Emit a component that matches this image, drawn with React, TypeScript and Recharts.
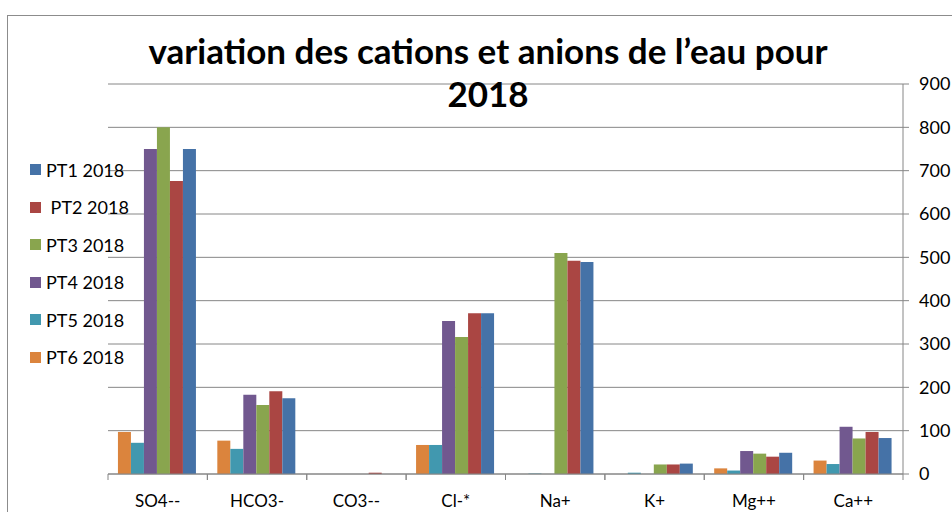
import React from 'react';
import { BarChart, Bar, XAxis, YAxis, CartesianGrid } from 'recharts';

const categories = ['SO4--', 'HCO3-', 'CO3--', 'Cl-*', 'Na+', 'K+', 'Mg++', 'Ca++'];

const pt1 = [750, 175, 0, 371, 489, 24, 49, 83];
const pt2 = [676, 191, 3, 371, 492, 22, 40, 97];
const pt3 = [800, 159, 0, 316, 510, 22, 47, 82];
const pt4 = [750, 183, 0, 353, 0, 0, 53, 109];
const pt5 = [72, 58, 0, 67, 1, 3, 8, 23];
const pt6 = [97, 77, 0, 67, 0, 0, 13, 31];

const yTicks = [0, 100, 200, 300, 400, 500, 600, 700, 800, 900];

const series = [
  { key: 'pt1', label: 'PT1 2018', color: '#4572a7' },
  { key: 'pt2', label: ' PT2 2018', color: '#aa4643' },
  { key: 'pt3', label: 'PT3 2018', color: '#89a54e' },
  { key: 'pt4', label: 'PT4 2018', color: '#71588f' },
  { key: 'pt5', label: 'PT5 2018', color: '#4198af' },
  { key: 'pt6', label: 'PT6 2018', color: '#db843d' },
];

const data = categories.map((name, i) => ({
  name,
  pt1: pt1[i],
  pt2: pt2[i],
  pt3: pt3[i],
  pt4: pt4[i],
  pt5: pt5[i],
  pt6: pt6[i],
}));

const W = 952;
const H = 512;
const M = { top: 84, left: 108, right: 0, bottom: 0 };
const Y_W = 49;
const X_H = 38;
const band = (W - M.left - M.right - Y_W) / categories.length;

const font = 'Lato, "Open Sans", sans-serif';

const CategoryTick = ({ x, y, payload }: any) => (
  <g>
    <line x1={x - band / 2} x2={x - band / 2} y1={y - 8} y2={y - 2} stroke="#868686" />
    <line x1={x + band / 2} x2={x + band / 2} y1={y - 8} y2={y - 2} stroke="#868686" />
    <text x={x} y={y + 25} textAnchor="middle" fontSize={17} fill="#000" fontFamily={font}>
      {payload.value}
    </text>
  </g>
);

const App = () => {
  return (
    <div style={{ position: 'absolute', left: 0, top: 0, width: W, height: H, background: '#fff', overflow: 'hidden' }}>
      <div style={{ position: 'absolute', left: 7, top: 15, width: 960, height: 520, border: '1px solid #8c8c8c' }} />
      <BarChart
        width={W}
        height={H}
        data={data}
        margin={M}
        barGap={0}
        barCategoryGap="10%"
      >
        <CartesianGrid vertical={false} stroke="#868686" />
        <XAxis
          dataKey="name"
          height={X_H}
          stroke="#868686"
          tickLine={false}
          tick={<CategoryTick />}
          interval={0}
        />
        <YAxis
          orientation="right"
          width={Y_W}
          domain={[0, 900]}
          ticks={yTicks}
          stroke="#868686"
          tickSize={6}
          tick={{ fontSize: 18, fill: '#000', fontFamily: font, textAnchor: 'start', dx: 8 }}
        />
        {[...series].reverse().map((s) => (
          <Bar key={s.key} dataKey={s.key} fill={s.color} isAnimationActive={false} />
        ))}
      </BarChart>
      <div
        style={{
          position: 'absolute',
          left: 0,
          width: 976,
          top: 29,
          textAlign: 'center',
          fontFamily: font,
          fontWeight: 'bold',
          fontSize: 35,
          lineHeight: '43px',
          color: '#000',
        }}
      >
        variation des cations et anions de l’eau pour
        <br />
        2018
      </div>
      <div style={{ position: 'absolute', left: 30, top: 151, fontFamily: font, fontSize: 18, color: '#000' }}>
        {series.map((s) => (
          <div key={s.key} style={{ display: 'flex', alignItems: 'center', height: 37.5 }}>
            <span style={{ width: 11, height: 11, background: s.color, display: 'inline-block', marginRight: 5 }} />
            <span style={{ whiteSpace: 'pre' }}>{s.label}</span>
          </div>
        ))}
      </div>
    </div>
  );
};

export default App;
